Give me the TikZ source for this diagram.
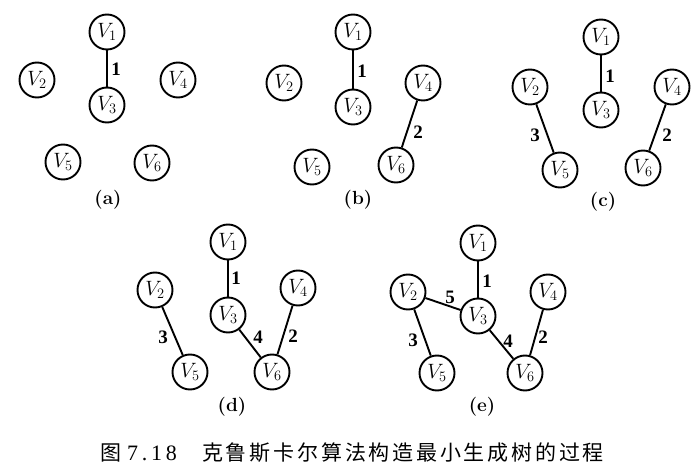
\documentclass[tikz,border=0pt]{standalone}
\usepackage{fontspec}
\newfontfamily\cjk{Noto Sans CJK SC}
\newfontfamily\capserif{Liberation Serif}
\newcommand{\cg}{\hspace{2.8pt}}
\begin{document}
\begin{tikzpicture}[x=1pt,y=-1pt,
  vtx/.style={circle,draw,line width=1.9pt,minimum size=35pt,inner sep=0pt,font=\fontsize{22}{22}\selectfont},
  edge/.style={line width=1.9pt},
  wt/.style={font=\fontsize{19}{19}\selectfont\capserif\bfseries,inner sep=0pt},
  panellbl/.style={font=\fontsize{19}{19}\selectfont\bfseries}]
\useasboundingbox (0,0) rectangle (696,470);
% (a)
\node[vtx] (a1) at (107,32) {$V_1$};
\node[vtx] (a2) at (37,80) {$V_2$};
\node[vtx] (a3) at (107,105) {$V_3$};
\node[vtx] (a4) at (178,80) {$V_4$};
\node[vtx] (a5) at (63,162) {$V_5$};
\node[vtx] (a6) at (152,163) {$V_6$};
\draw[edge] (a1) -- (a3);
\node[wt] (wa1) at (116,69) {1};
\node[panellbl] (la) at (108,200) {(a)};
% (b)
\node[vtx] (b1) at (353,32) {$V_1$};
\node[vtx] (b2) at (284,83) {$V_2$};
\node[vtx] (b3) at (353,107) {$V_3$};
\node[vtx] (b4) at (423,83) {$V_4$};
\node[vtx] (b5) at (312,167) {$V_5$};
\node[vtx] (b6) at (396,165) {$V_6$};
\draw[edge] (b1) -- (b3);
\draw[edge] (b4) -- (b6);
\node[wt] (wb1) at (362,71) {1};
\node[wt] (wb2) at (418,132) {2};
\node[panellbl] (lb) at (358,200) {(b)};
% (c)
\node[vtx] (c1) at (601,37) {$V_1$};
\node[vtx] (c2) at (530,87) {$V_2$};
\node[vtx] (c3) at (601,110) {$V_3$};
\node[vtx] (c4) at (672,87) {$V_4$};
\node[vtx] (c5) at (560,170) {$V_5$};
\node[vtx] (c6) at (643,168) {$V_6$};
\draw[edge] (c1) -- (c3);
\draw[edge] (c4) -- (c6);
\draw[edge] (c2) -- (c5);
\node[wt] (wc1) at (610,76) {1};
\node[wt] (wc2) at (667,135) {2};
\node[wt] (wc3) at (535,135) {3};
\node[panellbl] (lc) at (603,202) {(c)};
% (d)
\node[vtx] (d1) at (228,242) {$V_1$};
\node[vtx] (d2) at (155,290) {$V_2$};
\node[vtx] (d3) at (228,315) {$V_3$};
\node[vtx] (d4) at (298,288) {$V_4$};
\node[vtx] (d5) at (190,372) {$V_5$};
\node[vtx] (d6) at (272,372) {$V_6$};
\draw[edge] (d1) -- (d3);
\draw[edge] (d4) -- (d6);
\draw[edge] (d2) -- (d5);
\draw[edge] (d3) -- (d6);
\node[wt] (wd1) at (236,278) {1};
\node[wt] (wd2) at (293,336) {2};
\node[wt] (wd3) at (163,337) {3};
\node[wt] (wd4) at (258,337) {4};
\node[panellbl] (ld) at (232,407) {(d)};
% (e)
\node[vtx] (e1) at (478,243) {$V_1$};
\node[vtx] (e2) at (408,292) {$V_2$};
\node[vtx] (e3) at (478,316) {$V_3$};
\node[vtx] (e4) at (548,292) {$V_4$};
\node[vtx] (e5) at (437,373) {$V_5$};
\node[vtx] (e6) at (525,373) {$V_6$};
\draw[edge] (e1) -- (e3);
\draw[edge] (e4) -- (e6);
\draw[edge] (e2) -- (e5);
\draw[edge] (e3) -- (e6);
\draw[edge] (e2) -- (e3);
\node[wt] (we1) at (487,281) {1};
\node[wt] (we2) at (543,337) {2};
\node[wt] (we3) at (413,340) {3};
\node[wt] (we4) at (508,341) {4};
\node[wt] (we5) at (450,297) {5};
\node[panellbl] (le) at (482,407) {(e)};
% caption
\node[font=\fontsize{21}{21}\selectfont\cjk] (capfig) at (111,453) {图};
\node[font=\fontsize{22}{22}\selectfont\capserif] (capnum) at (152,453) {7\hspace{3.8pt}.\hspace{3.8pt}1\hspace{3.8pt}8};
\node[anchor=west,inner sep=0pt,font=\fontsize{21}{21}\selectfont\cjk] (captext) at (202,453) {克\cg 鲁\cg 斯\cg 卡\cg 尔\cg 算\cg 法\cg 构\cg 造\cg 最\cg 小\cg 生\cg 成\cg 树\cg 的\cg 过\cg 程};
\end{tikzpicture}
\end{document}
